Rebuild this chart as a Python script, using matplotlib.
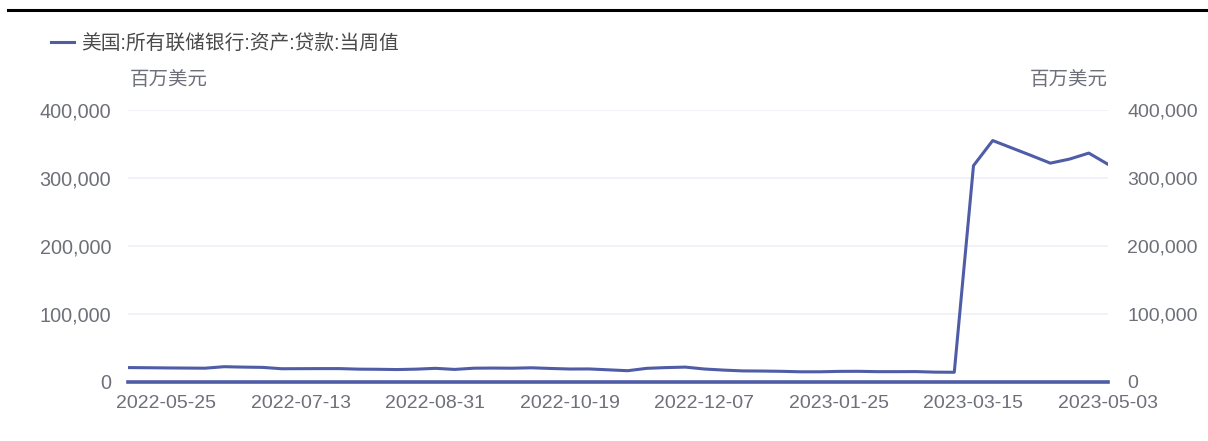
import numpy as np
import pandas as pd
import matplotlib
matplotlib.use('Agg')
import matplotlib.pyplot as plt
from matplotlib.lines import Line2D
from matplotlib.ticker import FuncFormatter

plt.rcParams['font.family'] = ['Liberation Sans', 'Noto Sans CJK SC', 'DejaVu Sans']

# weekly data, 2022-05-11 .. 2023-05-03 (millions of USD)
weeks = pd.date_range('2022-05-11', '2023-05-03', freq='7D')
loans = [20500, 20300, 20000, 19800, 19600, 21800, 21200, 20800, 18800, 18900,
         19000, 19000, 18200, 18000, 17600, 18200, 19400, 17800, 19600, 19800,
         19600, 20200, 19200, 18400, 18500, 17200, 15900, 19400, 20500, 21200,
         18400, 16800, 15600, 15400, 15000, 14300, 14300, 14900, 15000, 14500,
         14500, 14600, 13800, 13600, 318000, 355000, 344000, 333000, 321700, 327700,
         336500, 320000]
series_name = '美国:所有联储银行:资产:贷款:当周值'
unit = '百万美元'
tick_dates = pd.date_range('2022-05-25', '2023-05-03', freq='49D')
yticks = [0, 100000, 200000, 300000, 400000]

W, H = 1208, 441
line_col = '#4f5ca6'
txt_col = '#6e7079'

fig = plt.figure(figsize=(W / 100, H / 100), dpi=100)
ax = fig.add_axes([128 / W, 1 - 381.5 / H, (1108 - 128) / W, (381.5 - 110) / H])

ax.plot(weeks, loans, color=line_col, lw=2.2, label=series_name, solid_joinstyle='round')
ax.set_xlim(weeks[0], weeks[-1])
ax.set_ylim(0, 400000)
ax.set_yticks(yticks)
ax.set_xticks(tick_dates)
ax.set_xticklabels([d.strftime('%Y-%m-%d') for d in tick_dates])
ax.yaxis.set_major_formatter(FuncFormatter(lambda v, p: f'{int(v):,}'))
ax.grid(axis='y', color='#eef0f6', lw=1.2)
ax.set_axisbelow(True)
for s in ['top', 'right', 'left']:
    ax.spines[s].set_visible(False)
ax.spines['bottom'].set_color(line_col)
ax.spines['bottom'].set_linewidth(2.6)
ax.tick_params(axis='x', length=0, pad=10, labelsize=14, colors=txt_col)
ax.tick_params(axis='y', length=0, pad=12, labelsize=14.3, colors=txt_col)

ax2 = ax.twinx()
ax2.set_ylim(ax.get_ylim())
ax2.set_yticks(yticks)
ax2.yaxis.set_major_formatter(FuncFormatter(lambda v, p: f'{int(v):,}'))
for s in ['top', 'right', 'left', 'bottom']:
    ax2.spines[s].set_visible(False)
ax2.tick_params(axis='y', length=0, pad=14, labelsize=14, colors=txt_col)

fig.text(130 / W, 1 - 80 / H, unit, fontsize=14, color=txt_col, va='center', ha='left')
fig.text(1108 / W, 1 - 80 / H, unit, fontsize=14, color=txt_col, va='center', ha='right')

ax.legend(loc='center left', bbox_to_anchor=(51 / W, 1 - 43 / H), bbox_transform=fig.transFigure,
          frameon=False, handlelength=1.15, handletextpad=0.4, borderpad=0, borderaxespad=0,
          prop={'size': 14.2}, labelcolor='#4a4a4a')

fig.add_artist(Line2D([8 / W, 1], [1 - 10 / H] * 2, color='black', lw=2.2))

fig.savefig('out.png', dpi=100)
